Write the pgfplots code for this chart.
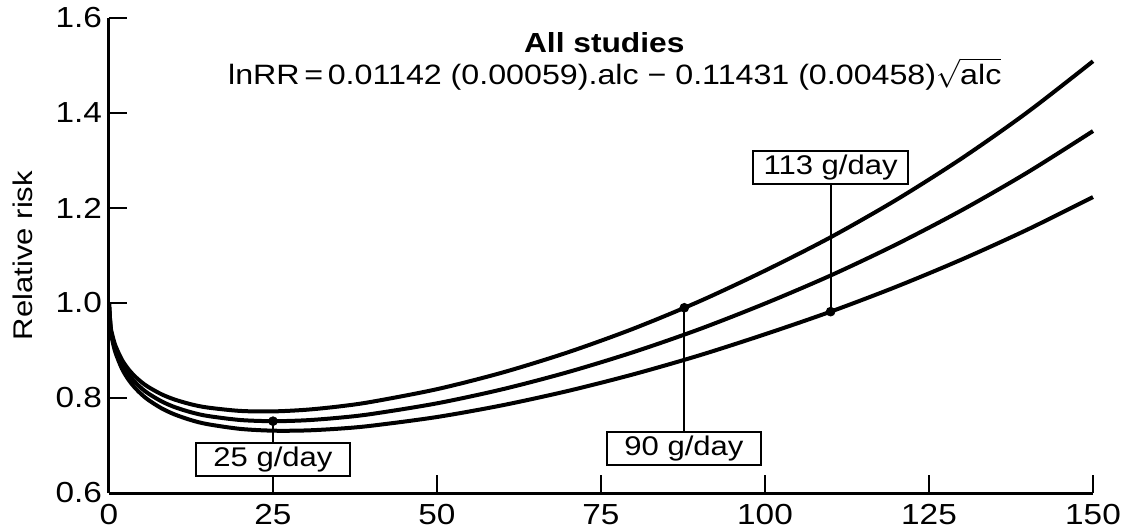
\documentclass[border=0pt]{standalone}
\usepackage{fontspec}
\setmainfont{Liberation Sans}[FakeStretch=1.15]
\usepackage{pgfplots}
\usepackage{pgfplotstable}
\pgfplotsset{compat=1.18}

% relative risk: upper CI, estimate, lower CI
\pgfplotstableread{
x     up     mid    lo
0     1.0000 1.0000 1.0000
0.25  0.9511 0.9471 0.9431
0.5   0.9331 0.9276 0.9222
1     0.9095 0.9022 0.8950
2     0.8799 0.8704 0.8610
3     0.8600 0.8490 0.8381
4     0.8449 0.8328 0.8209
5     0.8329 0.8200 0.8072
6     0.8231 0.8094 0.7959
8     0.8079 0.7930 0.7784
10    0.7968 0.7809 0.7654
12.5  0.7868 0.7700 0.7535
15    0.7800 0.7623 0.7450
20    0.7728 0.7537 0.7350
25    0.7718 0.7512 0.7312
30    0.7752 0.7531 0.7317
35    0.7821 0.7584 0.7354
40    0.7919 0.7663 0.7416
50    0.8186 0.7888 0.7600
60    0.8537 0.8185 0.7848
70    0.8964 0.8547 0.8150
80    0.9463 0.8969 0.8501
90    1.0035 0.9449 0.8898
100   1.0681 0.9989 0.9342
110   1.1384 1.0579 0.9818
120   1.2171 1.1233 1.0342
130   1.3046 1.1954 1.0917
140   1.4016 1.2748 1.1545
150   1.5090 1.3620 1.2231
}\rr

\begin{document}
\begin{tikzpicture}
\begin{axis}[
    at={(0,0)}, anchor=south west,
    scale only axis,
    width=492pt, height=237.5pt,
    xmin=0, xmax=150,
    ymin=0.6, ymax=1.6,
    axis lines=left,
    axis line style={-, line width=1.5pt},
    xtick={0,25,50,75,100,125,150},
    ytick={0.6,0.8,1.0,1.2,1.4,1.6},
    yticklabel style={/pgf/number format/.cd, fixed, fixed zerofill, precision=1},
    xticklabel style={yshift=-2pt},
    /pgf/number format/assume math mode=true,
    tick align=inside,
    major tick length=9pt,
    tick style={line width=1.2pt, black},
    ticklabel style={font=\fontsize{14.5}{16}\selectfont},
    ylabel={Relative risk},
    ylabel style={at={(axis description cs:-0.088,0.5)}, anchor=center,
                  font=\fontsize{13.5}{15}\selectfont},
    clip=false,
]
\addplot[line width=2pt, smooth, line join=round] table[x=x, y=up] {\rr};
\addplot[line width=2pt, smooth, line join=round] table[x=x, y=mid] {\rr};
\addplot[line width=2pt, smooth, line join=round] table[x=x, y=lo] {\rr};

% markers for 25, 90 and 113 g/day
\addplot[line width=1pt] coordinates {(25,0.7512) (25,0.6)};
\addplot[line width=1pt] coordinates {(87.7,0.990) (87.7,0.70)};
\addplot[line width=1pt] coordinates {(110,0.9818) (110,1.28)};
\addplot[only marks, mark=*, mark size=2.2pt] coordinates {(25,0.7512) (87.7,0.990) (110,0.9818)};

\node[draw, line width=1.2pt, fill=white, minimum width=77pt, minimum height=16.5pt,
      inner sep=0pt, font=\fontsize{13.5}{15}\selectfont] at (axis cs:25,0.6705) {25 g/day};
\node[draw, line width=1.2pt, fill=white, minimum width=77pt, minimum height=16.5pt,
      inner sep=0pt, font=\fontsize{13.5}{15}\selectfont] at (axis cs:87.65,0.6937) {90 g/day};
\node[draw, line width=1.2pt, fill=white, minimum width=77.5pt, minimum height=16.5pt,
      inner sep=0pt, font=\fontsize{13.5}{15}\selectfont] at (axis cs:110,1.285) {113 g/day};

\node[font=\bfseries\fontsize{13.8}{15}\selectfont] at (axis cs:75.5,1.548) {All studies};
\node[font=\fontsize{14}{16}\selectfont] at (axis cs:77.1,1.482)
  {lnRR\,=\,0.01142 (0.00059).alc − 0.11431 (0.00458)$\sqrt{\mbox{alc}}$};
\end{axis}
\pgfresetboundingbox
\path[use as bounding box] (-54.5pt,-19pt) rectangle (507.5pt,246.5pt);
\end{tikzpicture}
\end{document}
